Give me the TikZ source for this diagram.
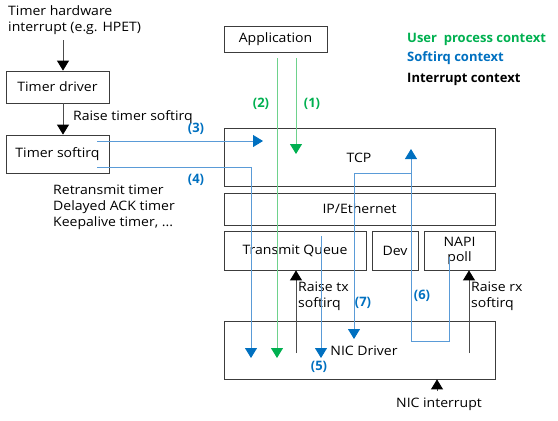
\documentclass[tikz,border=0pt]{standalone}
\usepackage{fontspec}
\setmainfont{Open Sans}
\newfontfamily\regf{Open Sans}[FakeStretch=1.08]
\usetikzlibrary{arrows.meta}
\definecolor{ublue}{RGB}{0,112,192}
\definecolor{lblue}{RGB}{90,155,215}
\definecolor{ugreen}{RGB}{0,176,80}
\definecolor{lgreen}{RGB}{110,210,140}
\definecolor{boxc}{RGB}{60,60,60}
\begin{document}
\begin{tikzpicture}[x=1pt,y=-1pt,
  box/.style={draw=boxc,line width=0.8pt,inner sep=0pt,font=\regf\fontsize{13}{15}\selectfont,align=center},
  plain/.style={inner sep=0pt,font=\regf\fontsize{13}{15}\selectfont},
  txt/.style={inner sep=0pt,font=\regf\fontsize{13}{16}\selectfont,align=left},
  lbl/.style={inner sep=0pt,font=\fontsize{13}{15}\selectfont\bfseries},
  blk/.style={-{Triangle[length=10pt,width=12pt,color=black]},draw=black!70,line width=0.9pt},
  bl/.style={-{Triangle[length=10pt,width=12pt,color=ublue]},draw=lblue,line width=0.9pt},
  gr/.style={-{Triangle[length=10pt,width=12pt,color=ugreen]},draw=lgreen,line width=0.9pt}]
\useasboundingbox (0,0) rectangle (558,421);
% boxes
\node[box,minimum width=103pt,minimum height=32pt] (tdrv) at (57.5,87) {Timer driver};
\node[box,minimum width=103pt,minimum height=38pt] (tsoft) at (57.5,154) {Timer softirq};
\node[box,minimum width=103pt,minimum height=26pt] (app) at (275.5,39) {Application};
\node[box,minimum width=271pt,minimum height=58pt] (tcp) at (359.5,157) {};
\node[plain] (tcpl) at (359,158) {TCP};
\node[box,minimum width=271pt,minimum height=32pt] (ip) at (359.5,209) {IP/Ethernet};
\node[box,minimum width=142pt,minimum height=39pt] (txq) at (295,250.5) {};
\node[plain] (txql) at (295,251) {Transmit Queue};
\node[box,minimum width=46pt,minimum height=39pt] (dev) at (395,250.5) {Dev};
\node[box,minimum width=71pt,minimum height=39pt] (napi) at (459.5,250.5) {NAPI\\poll};
\node[box,minimum width=271pt,minimum height=58pt] (nic) at (359.5,350) {};
\node[plain] (nicl) at (364,351) {NIC Driver};
% texts
\node[txt,anchor=north west] (hw) at (8,5) {Timer hardware\\interrupt (e.g. HPET)};
\node[txt,anchor=west] (rts) at (73,117) {Raise timer softirq};
\node[txt,anchor=north west] (tmrs) at (53,185) {Retransmit timer\\Delayed ACK timer\\Keepalive timer, ...};
\node[txt,anchor=north west] (rtx) at (298,282) {Raise tx\\softirq};
\node[txt,anchor=north west] (rrx) at (471,282) {Raise rx\\softirq};
\node[plain,anchor=center] (nicint) at (439,404) {NIC interrupt};
\node[lbl,anchor=west,text=ugreen] (lg1) at (407,39) {User\ \ process context};
\node[lbl,anchor=west,text=ublue] (lg2) at (407,58) {Softirq context};
\node[lbl,anchor=west,text=black] (lg3) at (407,79) {Interrupt context};
% labels
\node[lbl,text=ugreen] (l2) at (261,104) {(2)};
\node[lbl,text=ugreen] (l1) at (312,104) {(1)};
\node[lbl,text=ublue] (l3) at (196,129) {(3)};
\node[lbl,text=ublue] (l4) at (196,180) {(4)};
\node[lbl,text=ublue] (l5) at (319,367) {(5)};
\node[lbl,text=ublue] (l6) at (422,296) {(6)};
\node[lbl,text=ublue] (l7) at (363,303) {(7)};
% coordinates
\coordinate (hwb) at (63,40);
\coordinate (s3) at (97,141);
\coordinate (e3) at (263,141);
\coordinate (s4) at (97,167);
\coordinate (e4) at (251,358);
\coordinate (a2) at (277,58);
\coordinate (e2) at (277,358);
\coordinate (a1) at (296,58);
\coordinate (e1) at (296,154);
\coordinate (s5) at (321,236);
\coordinate (e5) at (321,358);
\coordinate (s7) at (411,173);
\coordinate (e7) at (354,339);
\coordinate (s6) at (449,257);
\coordinate (e6) at (411,149);
\coordinate (stx) at (296,353);
\coordinate (srx) at (469,353);
\coordinate (sni) at (437,391);
% interrupt-context arrows
\draw[blk] (hwb) -- (hwb |- tdrv.north);
\draw[blk] (tdrv.south -| hwb) -- (hwb |- tsoft.north);
\draw[blk] (stx) -- (stx |- txq.south);
\draw[blk] (srx) -- (srx |- napi.south);
\draw[blk] (sni) -- (sni |- nic.south);
% softirq arrows
\draw[bl] (s3) -- (e3);
\draw[bl] (s4) -- (s4 -| e4) -- (e4);
\draw[bl] (s5) -- (e5);
\draw[bl] (s7) -- (s7 -| e7) -- (e7);
\draw[bl] (s6) -- (s6 |- 0,341) -- (e6 |- 0,341) -- (e6);
% user arrows
\draw[gr] (a2) -- (e2);
\draw[gr] (a1) -- (e1);
\end{tikzpicture}
\end{document}
